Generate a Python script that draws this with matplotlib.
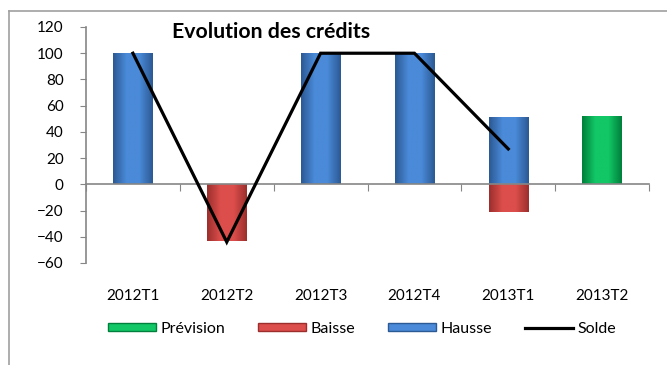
import numpy as np
import matplotlib.pyplot as plt
from matplotlib.colors import LinearSegmentedColormap
from matplotlib.lines import Line2D
from matplotlib.patches import Patch

categories = ["2012T1", "2012T2", "2012T3", "2012T4", "2013T1", "2013T2"]
hausse = [100, 0, 100, 100, 51, 0]
baisse = [0, -43, 0, 0, -21, 0]
prevision = [0, 0, 0, 0, 0, 52]
solde = [100, -44, 100, 100, 27]

plt.rcParams["font.family"] = ["Lato", "DejaVu Sans"]

blue = ("#2c5a94", "#4a8ad8")
red = ("#9c2f2d", "#dc4e4b")
green = ("#00803c", "#12c766")

fig = plt.figure(figsize=(6.67, 3.65), dpi=100)
ax = fig.add_axes([86 / 667, 1 - 263 / 365, (649 - 86) / 667, (263 - 27) / 365])

x = np.arange(len(categories))
width = 0.42


def shaded_bars(values, colors):
    bars = ax.bar(x, values, width, color=colors[1], edgecolor="none", zorder=2)
    cmap = LinearSegmentedColormap.from_list("bevel", [colors[0], colors[1], colors[1], colors[0]])
    grad = np.linspace(0, 1, 64).reshape(1, -1)
    for b, v in zip(bars, values):
        if v == 0:
            continue
        x0, y0 = b.get_x(), b.get_y()
        w, h = b.get_width(), b.get_height()
        im = ax.imshow(grad, cmap=cmap, aspect="auto", zorder=2.1,
                       extent=(x0, x0 + w, min(y0, y0 + h), max(y0, y0 + h)))
        im.set_clip_path(b)
    return bars


shaded_bars(hausse, blue)
shaded_bars(baisse, red)
shaded_bars(prevision, green)

ax.plot(x[:len(solde)], solde, color="black", lw=2.3, zorder=3, solid_joinstyle="miter")

ax.set_xlim(-0.5, len(categories) - 0.5)
ax.set_ylim(-60, 120)
ax.set_yticks(range(-60, 121, 20))
ax.tick_params(axis="y", labelsize=11, length=4, color="#868686", pad=12)

# x axis sits on zero, labels go under the plot area
ax.spines["bottom"].set_position(("data", 0))
ax.set_xticks(np.arange(-0.5, len(categories), 1))
ax.set_xticklabels([])
ax.tick_params(axis="x", length=5, color="#868686", direction="out")
for xi, lab in zip(x, categories):
    ax.text(xi, -0.14, lab, transform=ax.get_xaxis_transform(),
            ha="center", va="center", fontsize=11)

for side in ("top", "right"):
    ax.spines[side].set_visible(False)
for side in ("left", "bottom"):
    ax.spines[side].set_color("#868686")
    ax.spines[side].set_linewidth(1.2)
ax.spines["left"].set_zorder(1)

fig.text(172 / 667, 1 - 32 / 365, "Evolution des crédits", fontsize=15.3,
         fontweight="bold", ha="left", va="center")

# chart frame
fig.add_artist(Line2D([9 / 667, 1], [1 - 11 / 365] * 2, color="#a0a0a0", lw=1.2))
fig.add_artist(Line2D([9 / 667] * 2, [0, 1 - 11 / 365], color="#a0a0a0", lw=1.2))

handles = [
    Patch(facecolor=green[1], edgecolor=green[0]),
    Patch(facecolor=red[1], edgecolor=red[0]),
    Patch(facecolor=blue[1], edgecolor=blue[0]),
    Line2D([], [], color="black", lw=2.3),
]
fig.legend(handles, ["Prévision", "Baisse", "Hausse", "Solde"], ncol=4,
           loc="center", bbox_to_anchor=(362 / 667, 1 - 329 / 365),
           frameon=False, fontsize=11.5, handlelength=3.0, handleheight=0.35,
           handletextpad=0.25, columnspacing=2.1)

fig.savefig("out.png", dpi=100)
